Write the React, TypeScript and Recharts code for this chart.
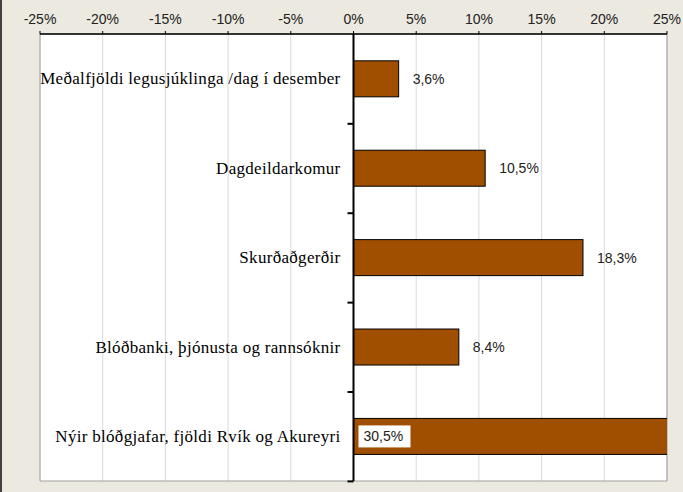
import React from "react";
import {
  BarChart,
  Bar,
  XAxis,
  YAxis,
  CartesianGrid,
  ReferenceLine,
  ReferenceArea,
  LabelList,
} from "recharts";

const categories = [
  "Meðalfjöldi legusjúklinga /dag í desember",
  "Dagdeildarkomur",
  "Skurðaðgerðir",
  "Blóðbanki, þjónusta og rannsóknir",
  "Nýir blóðgjafar, fjöldi Rvík og Akureyri",
];
const values = [3.6, 10.5, 18.3, 8.4, 30.5];
const xTicks = [-25, -20, -15, -10, -5, 0, 5, 10, 15, 20, 25];
const X_MIN = -25;
const X_MAX = 25;

const data = categories.map((name, i) => ({ name, value: values[i] }));

const GAP = 0.3;
const BAR_FILL = "#A04F00";

const fmt = (v: number) => v.toFixed(1).replace(".", ",") + "%";

const BarShape = (props: any) => {
  const { x, y, width, height } = props;
  const band = height / (1 - 2 * GAP);
  const bottom = y + height + GAP * band;
  return (
    <g>
      <rect x={x} y={y} width={width} height={height} fill={BAR_FILL} stroke="#000" strokeWidth={1} />
      <line x1={x - 6} x2={x} y1={bottom} y2={bottom} stroke="#000" strokeWidth={2} />
    </g>
  );
};

const ValueLabel = (props: any) => {
  const { x, y, width, height, value } = props;
  const cy = y + height / 2;
  if (value > X_MAX) {
    return (
      <g>
        <rect x={x + 5} y={cy - 11} width={52} height={22} fill="#fff" />
        <text x={x + 10} y={cy} dominantBaseline="central" fontFamily="Liberation Sans, Arial, sans-serif" fontSize={14} fill="#222">
          {fmt(value)}
        </text>
      </g>
    );
  }
  return (
    <text x={x + width + 14} y={cy} dominantBaseline="central" fontFamily="Liberation Sans, Arial, sans-serif" fontSize={14} fill="#222">
      {fmt(value)}
    </text>
  );
};

const NameLabel = (props: any) => {
  const { x, y, height, value } = props;
  return (
    <text x={x - 13} y={y + height / 2} textAnchor="end" dominantBaseline="central" fontFamily="Liberation Serif, Times New Roman, serif" fontSize={17} letterSpacing={0.3} fill="#000">
      {value}
    </text>
  );
};

export default function App() {
  return (
    <div style={{ position: "absolute", left: 0, top: 0, width: 683, height: 492, background: "#ECE9E0", overflow: "hidden" }}>
      <div style={{ position: "absolute", left: 0, top: 0, width: 2, height: 492, background: "#404040" }} />
      <BarChart
        width={683}
        height={492}
        layout="vertical"
        data={data}
        margin={{ top: 4, right: 16, bottom: 11, left: 40 }}
        barCategoryGap="30%"
      >
        <CartesianGrid horizontal={false} stroke="#d9d9d9" fill="#ffffff" />
        <ReferenceArea x1={X_MIN} x2={X_MAX} fill="none" stroke="#a0a0a0" strokeWidth={1} />
        <XAxis
          type="number"
          orientation="top"
          height={30}
          domain={[X_MIN, X_MAX]}
          ticks={xTicks}
          allowDataOverflow
          tickFormatter={(v: number) => `${v}%`}
          tickSize={3}
          tickMargin={7}
          axisLine={{ stroke: "#000", strokeWidth: 1.5 }}
          tickLine={{ stroke: "#000" }}
          tick={{ fill: "#222", fontSize: 14, fontFamily: "Liberation Sans, Arial, sans-serif" }}
          interval={0}
        />
        <YAxis type="category" dataKey="name" hide />
        <Bar dataKey="value" shape={<BarShape />} isAnimationActive={false}>
          <LabelList dataKey="value" content={<ValueLabel />} />
          <LabelList dataKey="name" content={<NameLabel />} />
        </Bar>
        <ReferenceLine x={0} stroke="#000" strokeWidth={2} />
      </BarChart>
    </div>
  );
}
